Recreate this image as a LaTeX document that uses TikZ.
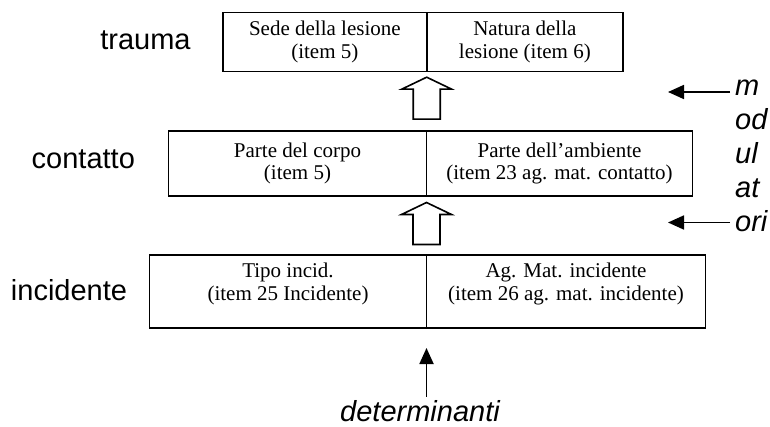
\documentclass[tikz,border=0pt]{standalone}
\usepackage{fontspec}
\setmainfont{Liberation Serif}
\newfontfamily\labelfont{Liberation Sans}
\usetikzlibrary{positioning,calc,arrows.meta}

\tikzset{
  cell/.style={draw, line width=1.6pt, outer sep=0pt, inner sep=0pt,
    minimum height=#1, align=center, font=\fontsize{21}{22.5}\selectfont},
  tag/.style={inner sep=0pt, font=\labelfont\fontsize{29}{34}\selectfont},
  pointer/.style={line width=1.8pt, -{Triangle[length=16pt,width=14pt]}}
}

% hollow arrow pointing up, tip at #1
\newcommand\blockup[1]{%
  \draw[line width=1.6pt, fill=white] #1 -- ++(25,-12) -- ++(-11.5,0)
    -- ++(0,-30) -- ++(-27,0) -- ++(0,30) -- ++(-11.5,0) -- cycle;}

\begin{document}
\begin{tikzpicture}[x=1pt,y=1pt]
  \useasboundingbox (0,0) rectangle (770,426);

  % trauma
  \node[cell=59pt, minimum width=203.7pt, anchor=north east] (sede) at (426.7,413.3)
    {Sede della lesione\\(item 5)};
  \node[cell=59pt, minimum width=196.3pt, right=0pt of sede] (natura)
    {Natura della\\lesione (item 6)};

  % contatto
  \node[cell=65pt, minimum width=258pt, anchor=north east] (corpo) at (426.5,295)
    {Parte del corpo\\(item 5)};
  \node[cell=65pt, minimum width=266pt, right=0pt of corpo] (ambiente)
    {Parte dell’ambiente\\(item 23 ag. mat. contatto)};

  % incidente
  \node[cell=73pt, minimum width=277pt, anchor=north east] (tipo) at (426.5,171)
    {Tipo incid.\\(item 25 Incidente)\\[-3pt]~};
  \node[cell=73pt, minimum width=279pt, right=0pt of tipo] (agente)
    {Ag. Mat. incidente\\(item 26 ag. mat. incidente)\\[-3pt]~};

  \blockup{($(sede.south east)+(0,-5.5)$)}
  \blockup{($(corpo.south east)+(0,-6.5)$)}

  \node[tag, anchor=base] (trauma) at (145.5,376.7) {trauma};
  \node[tag, anchor=base] (contatto) at (83.3,257.7) {contatto};
  \node[tag, anchor=base] (incidente) at (69,126) {incidente};

  % determinanti
  \node[tag, anchor=base, font=\labelfont\itshape\fontsize{29}{34}\selectfont]
    (det) at (420,5) {determinanti};
  \coordinate (dtip) at ($(tipo.south east)+(0,-20)$);
  \draw[pointer] ([yshift=3pt]det.north -| dtip) -- (dtip);

  % modulatori
  \node[tag, anchor=north west, align=left,
    font=\labelfont\itshape\fontsize{29}{34}\selectfont] (mod) at (735,346.5)
    {m\\od\\ul\\at\\ori};
  \coordinate (mtop) at (668,334);
  \coordinate (mbot) at (668,203.5);
  \draw[pointer] ([xshift=-5pt]mod.west |- mtop) -- (mtop);
  \draw[pointer] ([xshift=-5pt]mod.west |- mbot) -- (mbot);
\end{tikzpicture}
\end{document}
